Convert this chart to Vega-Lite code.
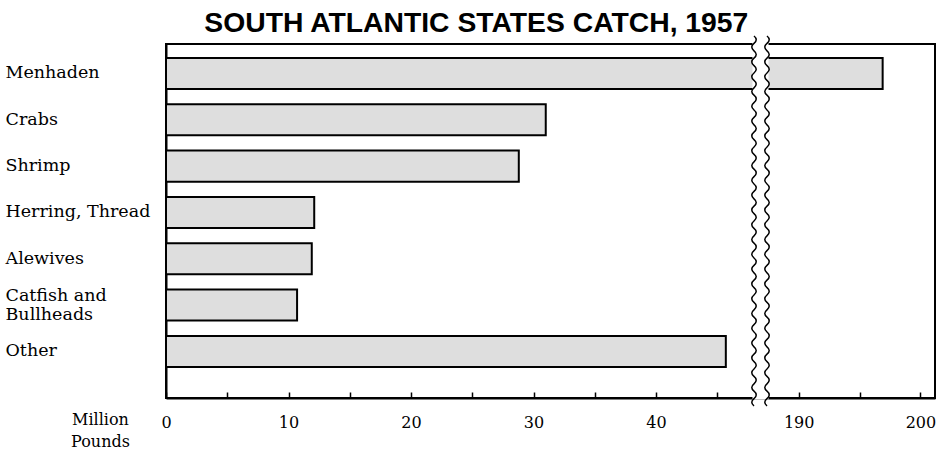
{
  "$schema": "https://vega.github.io/schema/vega-lite/v6.json",
  "width": 769,
  "height": 354,
  "autosize": {"type": "none"},
  "padding": {"left": 166, "top": 44, "right": 3, "bottom": 55},
  "background": "white",
  "config": {
    "view": {"stroke": "black", "strokeWidth": 2},
    "font": "DejaVu Serif"
  },
  "title": {
    "text": "SOUTH ATLANTIC STATES CATCH, 1957",
    "font": "Liberation Sans",
    "fontWeight": "bold",
    "fontSize": 28.3,
    "color": "black",
    "anchor": "middle",
    "frame": "bounds",
    "baseline": "bottom",
    "offset": 0,
    "dy": 33,
    "dx": 6
  },
  "data": {
    "values": [
      {"category": "Menhaden", "pounds": 196.9},
      {"category": "Crabs", "pounds": 31.0},
      {"category": "Shrimp", "pounds": 28.8},
      {"category": "Herring, Thread", "pounds": 12.1},
      {"category": "Alewives", "pounds": 11.9},
      {"category": "Catfish and Bullheads", "pounds": 10.7},
      {"category": "Other", "pounds": 45.7}
    ]
  },
  "layer": [
    {
      "mark": {"type": "bar", "fill": "#dedede", "stroke": "black", "strokeWidth": 2},
      "encoding": {
        "y": {
          "field": "category",
          "type": "nominal",
          "sort": null,
          "scale": {"paddingInner": 0.33, "paddingOuter": 0.486, "align": 0.31},
          "axis": {
            "title": null,
            "ticks": false,
            "domainColor": "black",
            "domainWidth": 2,
            "labelAlign": "left",
            "labelPadding": 161,
            "labelFont": "DejaVu Serif",
            "labelFontSize": 17.5,
            "labelColor": "black",
            "labelLineHeight": 19,
            "labelOffset": {"condition": {"test": "datum.value == 'Catfish and Bullheads'", "value": -9}, "value": 0},
            "labelExpr": "datum.value == 'Catfish and Bullheads' ? ['Catfish and', '\u00a0Bullheads'] : datum.label"
          }
        },
        "x": {
          "field": "pounds",
          "type": "quantitative",
          "scale": {"domain": [0, 48, 187.4, 201.2], "range": [0, 588, 601, 769], "zero": false, "nice": false, "clamp": true},
          "axis": {
            "values": [0, 5, 10, 15, 20, 25, 30, 35, 40, 45, 190, 195, 200],
            "labelExpr": "datum.value % 10 == 0 ? datum.label : ''",
            "grid": false,
            "domainColor": "black",
            "domainWidth": 2,
            "tickColor": "black",
            "tickWidth": 1.5,
            "tickSize": -6,
            "labelPadding": 22,
            "labelFont": "DejaVu Serif",
            "labelFontSize": 16,
            "labelColor": "black",
            "labelFlush": false,
            "title": ["Million", "Pounds"],
            "titleFont": "DejaVu Serif",
            "titleFontSize": 16,
            "titleFontWeight": "normal",
            "titleColor": "black",
            "titleX": -66,
            "titleY": 13,
            "titleAlign": "center",
            "titleBaseline": "top",
            "titleLineHeight": 22
          }
        }
      }
    },
    {
      "data": {"values": [{"from": 48, "to": 187.4}]},
      "mark": {"type": "rect", "fill": "white", "stroke": "white", "strokeWidth": 3},
      "encoding": {
        "x": {"field": "from", "type": "quantitative"},
        "x2": {"field": "to"}
      }
    },
    {
      "data": {"values": [{"at": 48}, {"at": 187.4}]},
      "mark": {
        "type": "point",
        "filled": false,
        "stroke": "black",
        "strokeWidth": 1.5,
        "opacity": 1,
        "size": 136900,
        "shape": "M0,-1 Q0.024,-0.98 0,-0.96 T0,-0.92 T0,-0.88 T0,-0.84 T0,-0.80 T0,-0.76 T0,-0.72 T0,-0.68 T0,-0.64 T0,-0.60 T0,-0.56 T0,-0.52 T0,-0.48 T0,-0.44 T0,-0.40 T0,-0.36 T0,-0.32 T0,-0.28 T0,-0.24 T0,-0.20 T0,-0.16 T0,-0.12 T0,-0.08 T0,-0.04 T0,0 T0,0.04 T0,0.08 T0,0.12 T0,0.16 T0,0.20 T0,0.24 T0,0.28 T0,0.32 T0,0.36 T0,0.40 T0,0.44 T0,0.48 T0,0.52 T0,0.56 T0,0.60 T0,0.64 T0,0.68 T0,0.72 T0,0.76 T0,0.80 T0,0.84 T0,0.88 T0,0.92 T0,0.96 T0,1"
      },
      "encoding": {
        "x": {"field": "at", "type": "quantitative"}
      }
    }
  ]
}
